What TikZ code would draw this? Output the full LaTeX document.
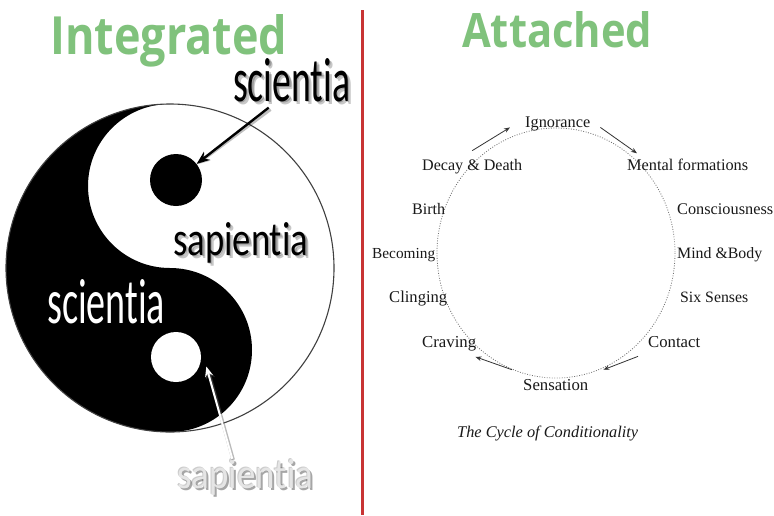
\documentclass[tikz,border=0pt]{standalone}
\usepackage{fontspec}
\newfontfamily\sansc[Ligatures=NoCommon]{Carlito}
\newfontfamily\titlef{Open Sans}
\newfontfamily\labf{Liberation Serif}
\usetikzlibrary{arrows.meta,shapes.geometric,calc}
\definecolor{titlegreen}{RGB}{128,194,124}
\definecolor{divred}{RGB}{200,52,52}
\newcommand\fitwh[3]{\resizebox{#1}{#2}{#3}}
\newcommand\fitw[2]{\resizebox{#1}{!}{#2}}
\begin{document}
\begin{tikzpicture}[x=1pt,y=-1pt,
  lbl/.style={anchor=base west, inner sep=0pt, text=black!90, font=\labf},
  sanslbl/.style={anchor=base west, inner sep=0pt, font=\sansc},
  titlelbl/.style={anchor=base west, inner sep=0pt, font=\titlef\bfseries, text=titlegreen},
  softshadow/.style={sanslbl, text=black, opacity=0.22},
  cyc/.style={-{Stealth[length=6pt,width=4.5pt]}, line width=0.8pt, black!80},
  ring/.style={black!75, line width=1.1pt},
]
\useasboundingbox (0,0) rectangle (774,515);
\fill[white] (0,0) rectangle (774,515);

% ---------- yin-yang ----------
\coordinate (C) at (170,268);
\fill[black] (170,104) arc[start angle=270, end angle=90, radius=164]
   arc[start angle=90, end angle=-90, radius=82]
   arc[start angle=90, end angle=270, radius=82] -- cycle;
\node[circle, fill=black, inner sep=0pt, minimum size=52pt] (bdot) at (176,180) {};
\node[circle, fill=white, inner sep=0pt, minimum size=50pt] (wdot) at (176,357) {};
\draw[ring] (C) circle[radius=164];

% ---------- titles ----------
\node[titlelbl] (tint) at (50,54) {\fitwh{237pt}{40pt}{Integrated}};
\node[titlelbl] (tatt) at (462,47) {\fitwh{190pt}{36pt}{Attached}};

% ---------- left labels ----------
\node[softshadow] at (234.5,102.5) {\fitwh{117pt}{43pt}{scientia}};
\node[softshadow] at (236,104) {\fitwh{117pt}{43pt}{scientia}};
\node[sanslbl, text=black] (sciT) at (233,101) {\fitwh{117pt}{43pt}{scientia}};

\node[softshadow] at (174.5,256.5) {\fitwh{135pt}{33pt}{sapientia}};
\node[softshadow] at (176,258) {\fitwh{135pt}{33pt}{sapientia}};
\node[sanslbl, text=black] (sapM) at (173,255) {\fitwh{135pt}{33pt}{sapientia}};

\node[sanslbl, text=white] (sciW) at (47,323) {\fitwh{118pt}{44pt}{scientia}};

\node[softshadow, opacity=0.35] at (179,490) {\fitwh{136pt}{29pt}{sapientia}};
\node[softshadow, opacity=0.2] at (176,487) {\fitwh{136pt}{29pt}{sapientia}};
\node[sanslbl, text=white!90!black] (sapB) at (177,488) {\fitwh{136pt}{29pt}{sapientia}};

% black arrow (with soft shadow)
\draw[black, opacity=0.25, line width=2.6pt, -{Stealth[length=13pt,width=10pt]}]
  ([xshift=-21pt,yshift=-8pt]sciT.south) -- ([xshift=2pt,yshift=-2pt]bdot);
\draw[black, line width=2.4pt, -{Stealth[length=13pt,width=10pt]}]
  ([xshift=-23pt,yshift=-6pt]sciT.south) -- (bdot);

% white arrow (with shadow)
\draw[black!60, opacity=0.45, line width=3.4pt, -{Stealth[length=11pt,width=9pt]}]
  ([xshift=-12pt,yshift=-1pt]sapB.north) -- ([shift={(7pt,-4pt)}]wdot.-15);
\draw[white, line width=2pt, -{Stealth[length=10pt,width=8pt]}]
  ([xshift=-13pt]sapB.north) -- ([shift={(6pt,-3pt)}]wdot.-15);

% ---------- divider ----------
\draw[divred, line width=3pt] (362,10) -- (362,515);

% ---------- cycle ----------
\draw[black!55, line width=0.8pt, dash pattern=on 0.9pt off 1.6pt] (556,253) ellipse[x radius=119, y radius=125];

\node[lbl] (ign)   at (525,127) {\fitw{65pt}{Ignorance}};
\node[lbl] (dd)    at (422,170) {\fitw{100pt}{Decay \& Death}};
\node[lbl] (mf)    at (627,170) {\fitw{121pt}{Mental formations}};
\node[lbl] (birth) at (412,214) {\fitw{33pt}{Birth}};
\node[lbl] (cons)  at (677,214) {\fitw{96pt}{Consciousness}};
\node[lbl] (becom) at (372,258) {\fitw{63pt}{Becoming}};
\node[lbl] (mb)    at (677,258) {\fitw{85pt}{Mind \&Body}};
\node[lbl] (cling) at (389,302) {\fitw{58pt}{Clinging}};
\node[lbl] (six)   at (680,302) {\fitw{68pt}{Six Senses}};
\node[lbl] (crav)  at (422,347) {\fitw{54pt}{Craving}};
\node[lbl] (cont)  at (648,347) {\fitw{52pt}{Contact}};
\node[lbl] (sens)  at (523,390) {\fitw{65pt}{Sensation}};
\node[lbl, font=\labf\itshape] (capt) at (457,437) {\fitw{181pt}{The Cycle of Conditionality}};

\draw[cyc] ([yshift=8pt]dd.north) -- ([xshift=-15pt,yshift=-4pt]ign.west);
\draw[cyc] ([xshift=10pt,yshift=-4pt]ign.east) -- ([xshift=10pt,yshift=5pt]mf.north west);
\draw[cyc] ([xshift=-11pt,yshift=9pt]sens.north west) -- ([xshift=-1pt,yshift=-6pt]crav.south east);
\draw[cyc] ([xshift=-10pt,yshift=-9pt]cont.south west) -- ([xshift=15pt,yshift=9pt]sens.north east);
\end{tikzpicture}
\end{document}
